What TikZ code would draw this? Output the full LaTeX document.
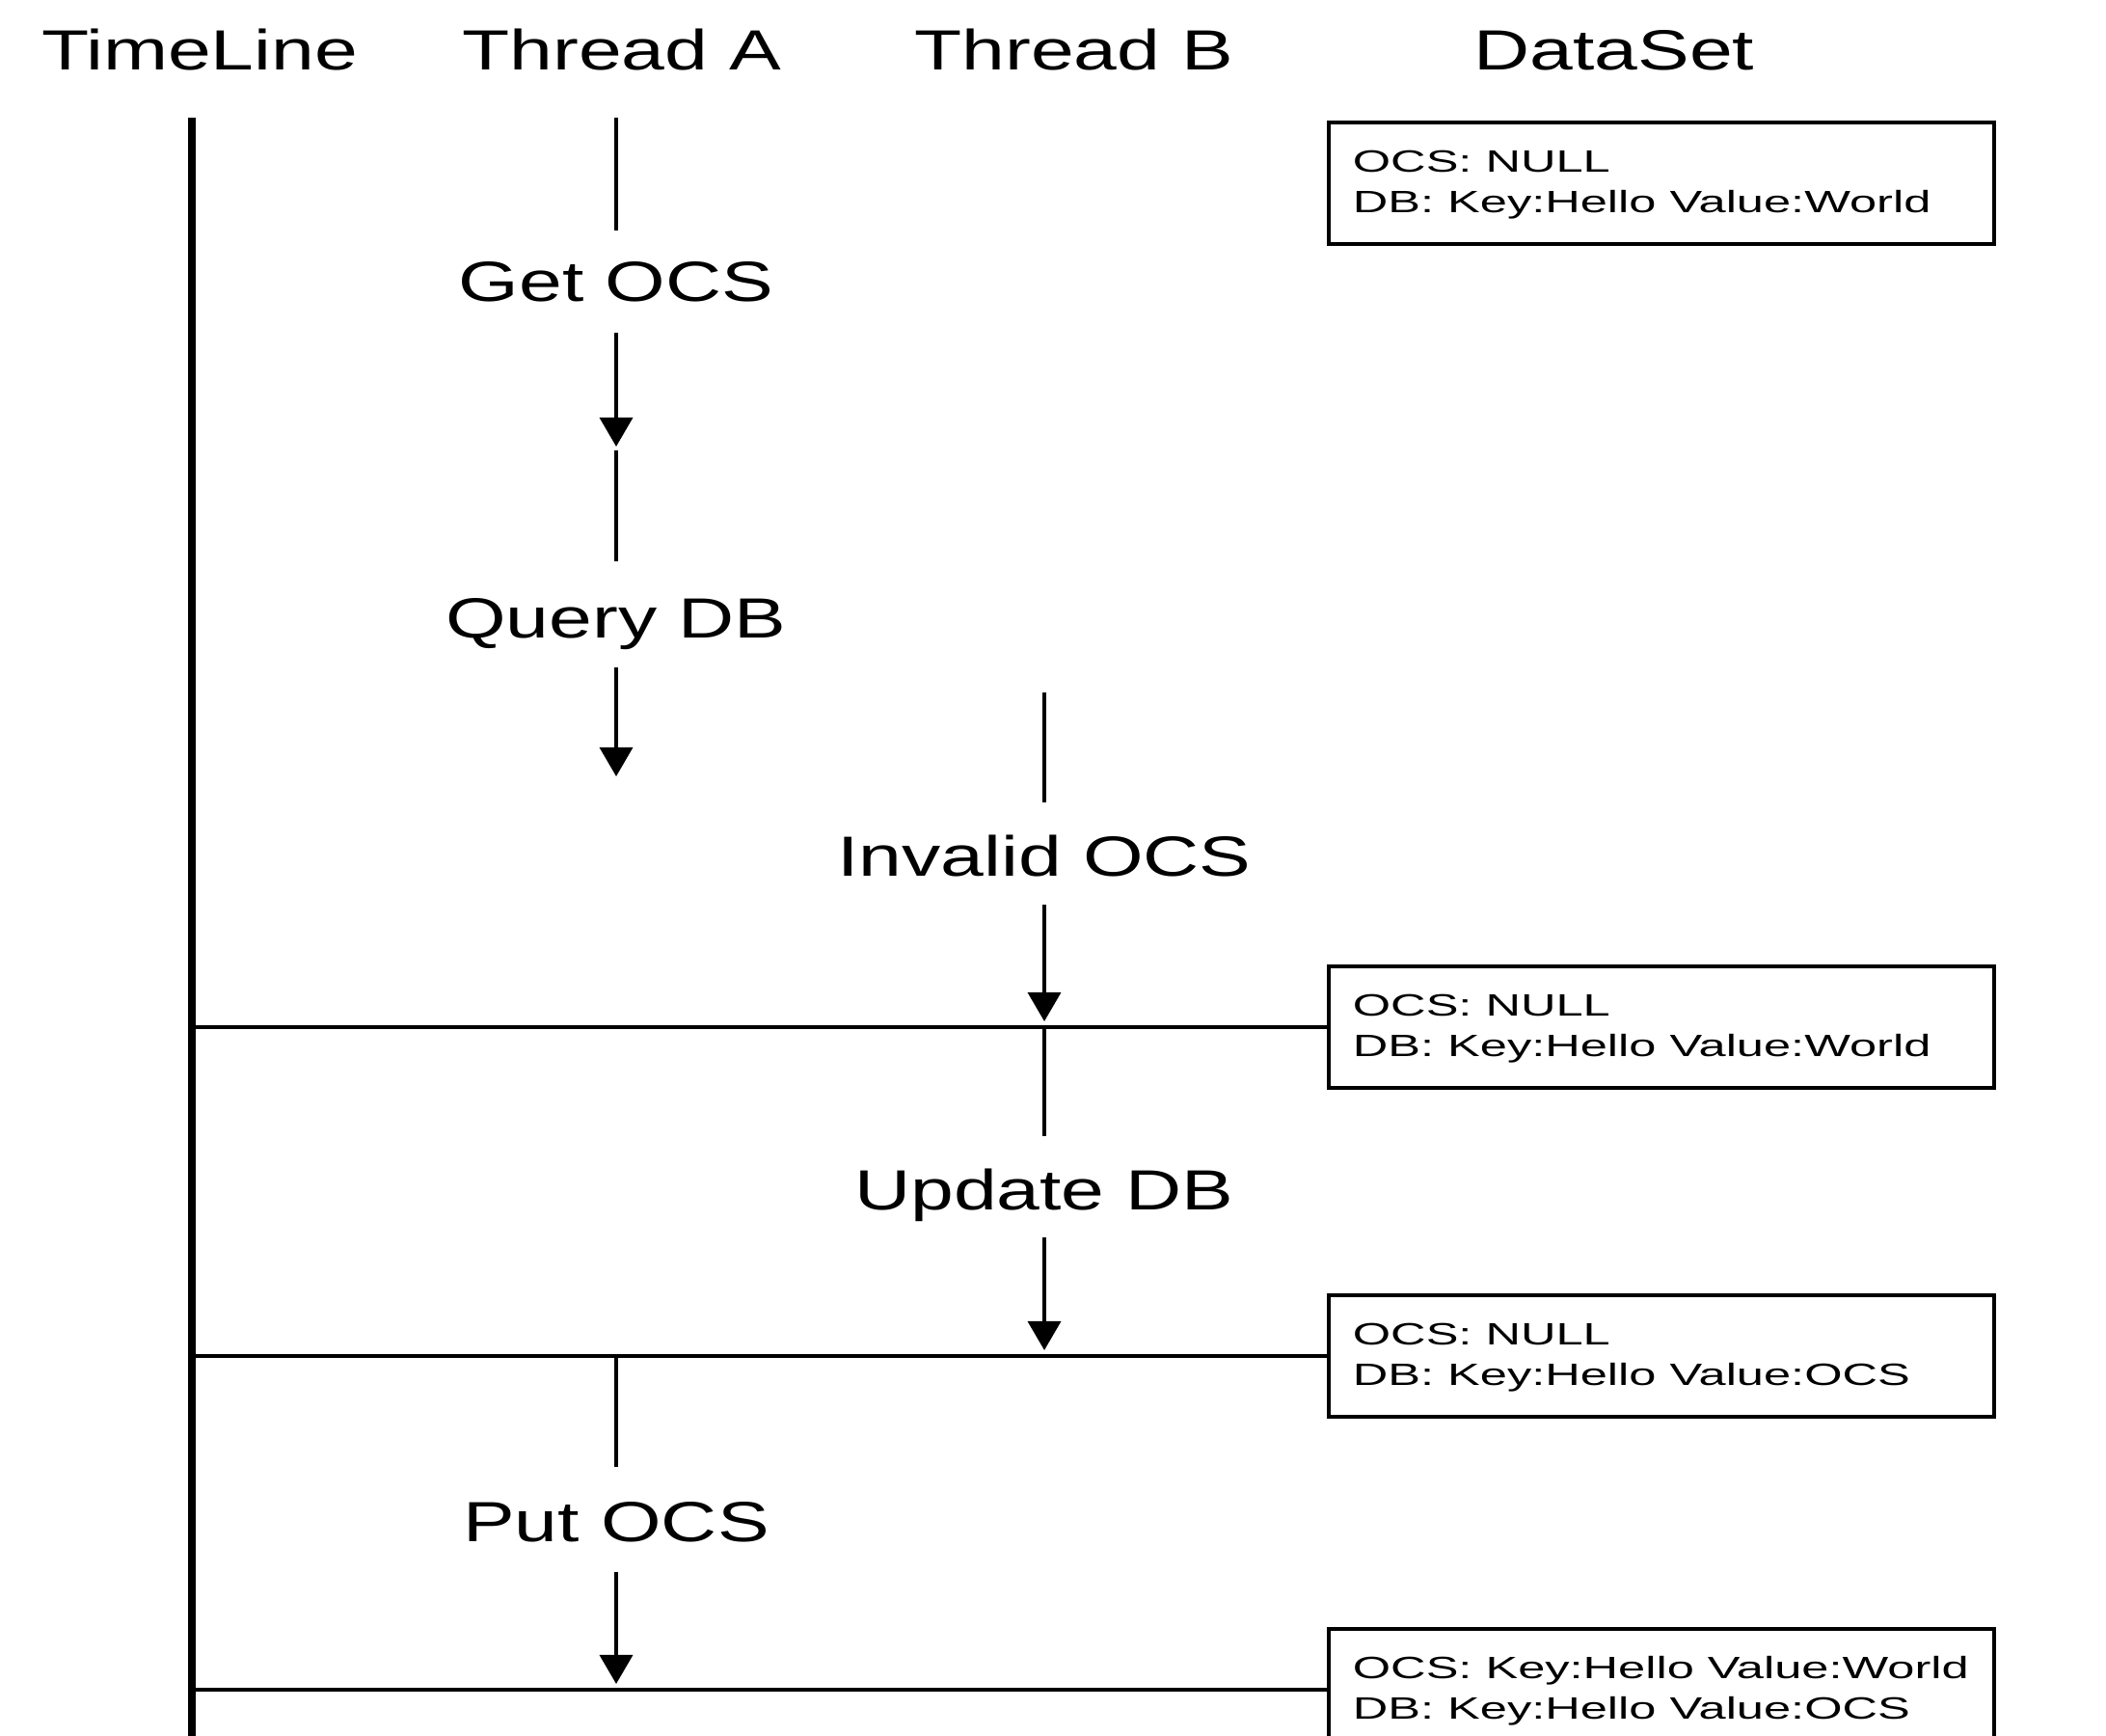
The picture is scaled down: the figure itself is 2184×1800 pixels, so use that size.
\documentclass[tikz,border=0pt]{standalone}
\usepackage{fontspec}
\setmainfont{Liberation Sans}
\newfontfamily\lblfont{Liberation Sans}[FakeStretch=1.37]
\newfontfamily\boxfont{Liberation Sans}[FakeStretch=1.58]
\usetikzlibrary{arrows.meta,calc}
\begin{document}
\begin{tikzpicture}[x=0.01cm,y=-0.01cm,
  lbl/.style={font=\lblfont\fontsize{16.7pt}{20pt}\selectfont, inner sep=0pt, anchor=base},
  boxtxt/.style={font=\boxfont\fontsize{9.1pt}{11pt}\selectfont, inner sep=0pt, anchor=base west},
  statebox/.style={draw, line width=1.2pt, minimum width=6.89cm, minimum height=1.26cm, inner sep=0pt},
  thr/.style={line width=1pt},
  timeln/.style={line width=2pt},
  hline/.style={line width=1pt},
  arr/.style={line width=1pt, -{Triangle[width=0.34cm,length=0.30cm]}}]
\useasboundingbox (0,0) rectangle (2184,1800);

% titles
\node[lbl] (tTime) at (207,73) {TimeLine};
\node[lbl] (tA) at (645,73) {Thread A};
\node[lbl] (tB) at (1114,73) {Thread B};
\node[lbl] (tData) at (1674,73) {DataSet};

% state boxes
\node[statebox] (s1) at (1723,190) {};
\node[statebox] (s2) at (1723,1065) {};
\node[statebox] (s3) at (1723,1406) {};
\node[statebox] (s4) at (1723,1752) {};

\node[boxtxt] (s1a) at ($(s1.north west)+(26,54)$) {OCS: NULL};
\node[boxtxt] (s1b) at ($(s1.north west)+(26,96)$) {DB: Key:Hello Value:World};
\node[boxtxt] (s2a) at ($(s2.north west)+(26,54)$) {OCS: NULL};
\node[boxtxt] (s2b) at ($(s2.north west)+(26,96)$) {DB: Key:Hello Value:World};
\node[boxtxt] (s3a) at ($(s3.north west)+(26,54)$) {OCS: NULL};
\node[boxtxt] (s3b) at ($(s3.north west)+(26,96)$) {DB: Key:Hello Value:OCS};
\node[boxtxt] (s4a) at ($(s4.north west)+(26,54)$) {OCS: Key:Hello Value:World};
\node[boxtxt] (s4b) at ($(s4.north west)+(26,96)$) {DB: Key:Hello Value:OCS};

% timeline
\coordinate (tl0) at (199,122);
\coordinate (tlEnd) at (199,1815);
\draw[timeln] (tl0) -- (tlEnd);
\coordinate (h1) at (199,1065);
\coordinate (h2) at (199,1406);
\coordinate (h3) at (199,1752);
\draw[hline] (h1) -- (s2.west);
\draw[hline] (h2) -- (s3.west);
\draw[hline] (h3) -- (s4.west);

% thread A, first part
\node[lbl] (getocs) at (639,313) {Get OCS};
\node[lbl] (query) at (639,661) {Query DB};
\coordinate (a0) at (639,122);
\coordinate (a1) at (639,239);
\coordinate (a2) at (639,345);
\coordinate (a3) at (639,463);
\coordinate (a4) at (639,467);
\coordinate (a5) at (639,582);
\coordinate (a6) at (639,692);
\coordinate (a7) at (639,805);
\draw[thr] (a0) -- (a1);
\draw[arr] (a2) -- (a3);
\draw[thr] (a4) -- (a5);
\draw[arr] (a6) -- (a7);

% thread B
\node[lbl] (invalid) at (1083,908) {Invalid OCS};
\node[lbl] (update) at (1083,1254) {Update DB};
\coordinate (b0) at (1083,718);
\coordinate (b1) at (1083,832);
\coordinate (b2) at (1083,938);
\coordinate (b3) at (1083,1059);
\coordinate (b4) at (1083,1065);
\coordinate (b5) at (1083,1178);
\coordinate (b6) at (1083,1283);
\coordinate (b7) at (1083,1400);
\draw[thr] (b0) -- (b1);
\draw[arr] (b2) -- (b3);
\draw[thr] (b4) -- (b5);
\draw[arr] (b6) -- (b7);

% thread A, second part
\node[lbl] (putocs) at (639,1598) {Put OCS};
\coordinate (a8) at (639,1406);
\coordinate (a9) at (639,1521);
\coordinate (a10) at (639,1630);
\coordinate (a11) at (639,1746);
\draw[thr] (a8) -- (a9);
\draw[arr] (a10) -- (a11);
\end{tikzpicture}
\end{document}
